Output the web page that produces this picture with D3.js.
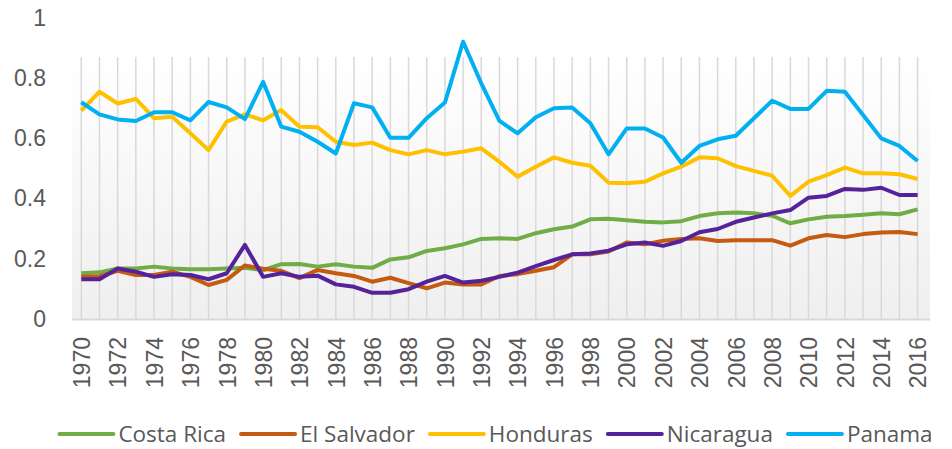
<!DOCTYPE html>
<html>
<head>
<meta charset="utf-8">
<script src="https://cdn.jsdelivr.net/npm/d3@7"></script>
<style>
  body { margin: 0; background: #fff; }
  svg { display: block; font-family: "Open Sans", sans-serif; }
  .axis text { fill: #595959; font-size: 23px; }
  .axis .domain, .axis line { display: none; }
</style>
</head>
<body>
<svg width="952" height="449"></svg>
<script>
var years = d3.range(1970, 2017);
var yTicks = [0, 0.2, 0.4, 0.6, 0.8, 1];
var xTicks = years.filter(function(d) { return d % 2 === 0; });
var countries = ["Costa Rica", "El Salvador", "Honduras", "Nicaragua", "Panama"];
var colors = ["#70ad47", "#c55a11", "#ffc000", "#56229a", "#00b0f0"];

var costaRica = [0.152,0.155,0.168,0.168,0.174,0.168,0.165,0.165,0.168,0.17,0.162,0.182,
  0.183,0.174,0.182,0.174,0.17,0.198,0.205,0.226,0.235,0.248,0.266,0.268,
  0.266,0.285,0.298,0.307,0.331,0.333,0.328,0.323,0.321,0.325,0.342,
  0.351,0.354,0.351,0.343,0.318,0.331,0.34,0.342,0.346,0.351,0.348,0.364];
var elSalvador = [0.14,0.142,0.16,0.146,0.146,0.157,0.14,0.113,0.13,0.178,0.167,0.16,
  0.136,0.163,0.152,0.143,0.124,0.137,0.119,0.102,0.121,0.115,0.115,0.143,
  0.149,0.16,0.172,0.215,0.215,0.224,0.254,0.248,0.26,0.266,0.268,
  0.259,0.262,0.262,0.262,0.244,0.268,0.279,0.272,0.282,0.287,0.289,0.282];
var honduras = [0.692,0.755,0.716,0.731,0.667,0.672,0.617,0.561,0.656,0.68,0.66,0.694,
  0.639,0.637,0.589,0.578,0.586,0.561,0.547,0.561,0.547,0.556,0.567,0.522,
  0.473,0.506,0.537,0.519,0.509,0.453,0.451,0.456,0.484,0.506,0.537,
  0.534,0.508,0.492,0.476,0.409,0.456,0.478,0.503,0.484,0.484,0.481,0.465];
var nicaragua = [0.132,0.132,0.168,0.157,0.14,0.149,0.146,0.132,0.152,0.246,0.14,0.152,
  0.14,0.144,0.115,0.107,0.087,0.087,0.099,0.124,0.143,0.121,0.127,0.14,
  0.154,0.176,0.196,0.215,0.218,0.227,0.248,0.254,0.243,0.259,0.288,
  0.299,0.323,0.337,0.351,0.362,0.403,0.409,0.432,0.429,0.436,0.412,0.412];
var panama = [0.72,0.68,0.663,0.658,0.687,0.687,0.66,0.721,0.703,0.664,0.788,0.639,
  0.622,0.589,0.55,0.717,0.703,0.602,0.602,0.667,0.719,0.921,0.783,0.658,
  0.617,0.67,0.7,0.703,0.65,0.547,0.633,0.633,0.603,0.519,0.575,
  0.597,0.609,0.667,0.725,0.698,0.698,0.758,0.755,0.678,0.6,0.575,0.525];

var seriesValues = [costaRica, elSalvador, honduras, nicaragua, panama];

var svg = d3.select("svg");

var x = d3.scaleLinear().domain([1970, 2016]).range([81.3, 917.6]),
    y = d3.scaleLinear().domain([0, 1]).range([319, 18]);

// plot background gradient
var grad = svg.append("defs").append("linearGradient")
    .attr("id", "bg").attr("x1", 0).attr("y1", 0).attr("x2", 0).attr("y2", 1);
grad.append("stop").attr("offset", "0%").attr("stop-color", "#ffffff");
grad.append("stop").attr("offset", "100%").attr("stop-color", "#efefef");

var plotTop = 57, plotLeft = 72, plotRight = 930;
svg.append("rect")
    .attr("x", plotLeft).attr("y", plotTop)
    .attr("width", plotRight - plotLeft).attr("height", y(0) - plotTop)
    .attr("fill", "url(#bg)");

// vertical gridlines
svg.append("g").selectAll("line")
  .data(years)
  .enter().append("line")
    .attr("x1", function(d) { return x(d); })
    .attr("x2", function(d) { return x(d); })
    .attr("y1", plotTop)
    .attr("y2", y(0))
    .attr("stroke", "#d9d9d9")
    .attr("stroke-width", 1.5);

svg.append("line")
    .attr("x1", plotLeft).attr("x2", plotRight)
    .attr("y1", y(0) + 0.5).attr("y2", y(0) + 0.5)
    .attr("stroke", "#d9d9d9").attr("stroke-width", 2);

// y axis
svg.append("g")
    .attr("class", "axis")
    .attr("transform", "translate(46,0)")
    .call(d3.axisLeft(y).tickValues(yTicks).tickSize(0).tickPadding(0)
      .tickFormat(function(d) { return d === 0 ? "0" : d === 1 ? "1" : d3.format(".1f")(d); }));

// x axis, labels rotated
svg.append("g")
    .attr("class", "axis")
    .attr("transform", "translate(0," + y(0) + ")")
    .call(d3.axisBottom(x).tickValues(xTicks).tickSize(0).tickFormat(d3.format("d")))
  .selectAll("text")
    .attr("transform", "rotate(-90)")
    .attr("x", -18)
    .attr("y", 0)
    .attr("dy", "0.36em")
    .style("text-anchor", "end");

// lines
var line = d3.line()
    .x(function(d, i) { return x(years[i]); })
    .y(function(d) { return y(d); });

svg.append("g").selectAll("path")
  .data(seriesValues)
  .enter().append("path")
    .attr("d", function(d) { return line(d); })
    .attr("fill", "none")
    .attr("stroke", function(d, i) { return colors[i]; })
    .attr("stroke-width", 4)
    .attr("stroke-linejoin", "round");

// legend
var legend = svg.append("g");
var items = legend.selectAll("g")
  .data(countries)
  .enter().append("g");

items.append("line")
    .attr("x1", 0).attr("x2", 54)
    .attr("y1", 0).attr("y2", 0)
    .attr("stroke", function(d, i) { return colors[i]; })
    .attr("stroke-width", 4)
    .attr("stroke-linecap", "round");

items.append("text")
    .attr("x", 59)
    .attr("dy", "0.36em")
    .style("font-size", "22.5px")
    .style("fill", "#595959")
    .text(function(d) { return d; });

var offs = [], pos = 0;
items.each(function() {
  offs.push(pos);
  pos += 59 + this.querySelector("text").getComputedTextLength() + 15;
});
var total = pos - 15;
var startX = 496 - total / 2;
items.attr("transform", function(d, i) { return "translate(" + (startX + offs[i]) + ",434)"; });
</script>
</body>
</html>
